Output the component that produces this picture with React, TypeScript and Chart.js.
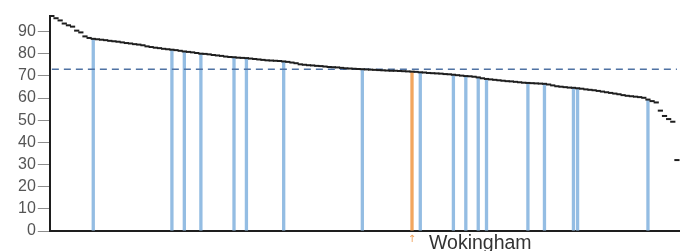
import React, { useEffect, useRef } from 'react';
import { Chart, registerables } from 'chart.js';

Chart.register(...registerables);

// Sorted values for each authority (rank order, highest first)
const values: number[] = [
  97.0, 96.0, 95.0, 93.6, 92.8, 92.2, 90.4, 89.6, 87.8, 87.1,
  86.7, 86.5, 86.3, 86.1, 85.8, 85.6, 85.4, 85.1, 84.8, 84.6,
  84.3, 84.1, 83.8, 83.3, 83.0, 82.7, 82.5, 82.2, 82.0, 81.8,
  81.6, 81.3, 81.0, 80.8, 80.6, 80.3, 80.0, 79.9, 79.7, 79.4,
  79.2, 79.0, 78.7, 78.5, 78.4, 78.2, 78.1, 78.0, 77.8, 77.6,
  77.4, 77.2, 77.0, 76.9, 76.8, 76.7, 76.5, 76.3, 76.0, 75.7,
  75.2, 75.0, 74.8, 74.7, 74.5, 74.4, 74.2, 74.0, 73.9, 73.8,
  73.6, 73.4, 73.3, 73.2, 73.1, 73.0, 72.9, 72.8, 72.7, 72.6,
  72.5, 72.4, 72.3, 72.3, 72.2, 72.1, 72.0, 71.9, 71.8, 71.6,
  71.5, 71.3, 71.2, 71.1, 71.0, 70.8, 70.7, 70.5, 70.3, 70.1,
  69.9, 69.8, 69.6, 69.3, 68.9, 68.6, 68.4, 68.2, 68.0, 67.8,
  67.6, 67.5, 67.3, 67.1, 66.9, 66.8, 66.7, 66.6, 66.5, 66.4,
  66.1, 65.7, 65.3, 65.1, 64.9, 64.7, 64.6, 64.4, 64.2, 63.9,
  63.7, 63.5, 63.2, 62.9, 62.6, 62.3, 62.0, 61.7, 61.3, 61.0,
  60.8, 60.6, 60.4, 60.1, 59.3, 58.6, 58.0, 54.3, 51.9, 50.5,
  49.3, 32.0,
];

const labels: string[] = values.map((_, i) => String(i + 1));

// Comparator authorities (blue) and the focus authority (orange)
const comparatorIndices: number[] = [10, 29, 32, 36, 44, 47, 56, 75, 89, 97, 100, 103, 105, 115, 119, 126, 127, 144];
const focusIndex = 87;
const focusName = 'Wokingham';
const averageValue = 73;

const yTicks: number[] = [0, 10, 20, 30, 40, 50, 60, 70, 80, 90];

const App: React.FC = () => {
  const canvasRef = useRef<HTMLCanvasElement | null>(null);

  useEffect(() => {
    if (!canvasRef.current) return;

    const blueData = values.map((v, i) => (comparatorIndices.includes(i) ? v : null));
    const orangeData = values.map((v, i) => (i === focusIndex ? v : null));
    const avgData = values.map(() => averageValue);

    const focusLabel = {
      id: 'focusLabel',
      afterDraw(chart: any) {
        const { ctx, chartArea } = chart;
        const x = chart.scales.x.getPixelForValue(focusIndex);
        ctx.save();
        ctx.fillStyle = '#f0a35c';
        ctx.font = '10px "DejaVu Sans"';
        ctx.textAlign = 'center';
        ctx.textBaseline = 'top';
        ctx.fillText('↑', x, chartArea.bottom + 3);
        ctx.fillStyle = '#333333';
        ctx.font = '19.5px "Liberation Sans", Arial, sans-serif';
        ctx.textAlign = 'left';
        ctx.textBaseline = 'alphabetic';
        ctx.fillText(focusName, x + 17, chartArea.bottom + 18);
        ctx.restore();
      },
    };

    const chart = new Chart(canvasRef.current, {
      type: 'bar',
      data: {
        labels,
        datasets: [
          {
            type: 'line',
            data: values,
            showLine: false,
            pointStyle: 'line',
            pointRadius: 2.6,
            pointBorderWidth: 2,
            pointBorderColor: '#1e1e1e',
            pointBackgroundColor: '#1e1e1e',
            borderColor: '#1e1e1e',
            clip: false,
            order: 0,
          } as any,
          {
            type: 'line',
            data: avgData,
            borderColor: '#4f72a3',
            borderWidth: 1.5,
            borderDash: [7, 5],
            pointRadius: 0,
            order: 1,
          } as any,
          {
            type: 'bar',
            data: blueData,
            backgroundColor: '#94bde3',
            borderWidth: 0,
            barPercentage: 0.8,
            categoryPercentage: 1,
            grouped: false,
            order: 2,
          } as any,
          {
            type: 'bar',
            data: orangeData,
            backgroundColor: '#f2a65e',
            borderWidth: 0,
            barPercentage: 0.8,
            categoryPercentage: 1,
            grouped: false,
            order: 2,
          } as any,
        ],
      },
      options: {
        responsive: false,
        animation: false,
        layout: { padding: { left: 16, right: 13, top: 16, bottom: 12 } },
        plugins: { legend: { display: false }, tooltip: { enabled: false } },
        scales: {
          x: {
            offset: true,
            grid: { display: false },
            ticks: { display: false },
            border: { display: true, color: '#1e1e1e', width: 2 },
          },
          y: {
            min: 0,
            max: 97,
            afterBuildTicks: (scale: any) => {
              scale.ticks = yTicks.map((v) => ({ value: v }));
            },
            ticks: {
              includeBounds: false,
              stepSize: 10,
              padding: 2,
              color: '#555555',
              font: { family: '"Liberation Sans", Arial, sans-serif', size: 16 },
            },
            grid: {
              drawOnChartArea: false,
              drawTicks: true,
              tickLength: 12,
              color: '#8c8c8c',
              lineWidth: 1,
            },
            border: { display: true, color: '#1e1e1e', width: 2 },
          },
        },
      },
      plugins: [focusLabel],
    });

    return () => chart.destroy();
  }, []);

  return (
    <div style={{ position: 'absolute', left: 0, top: 0, width: 692, height: 251 }}>
      <canvas ref={canvasRef} width={692} height={251} style={{ display: 'block' }} />
    </div>
  );
};

export default App;
